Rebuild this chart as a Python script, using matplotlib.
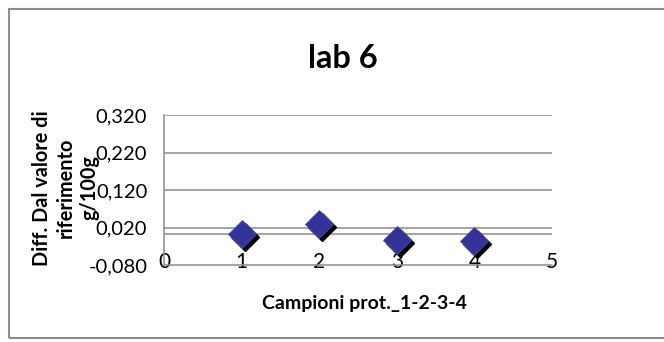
import matplotlib.pyplot as plt
from matplotlib.patches import Rectangle
from matplotlib.transforms import offset_copy

# Scostamenti dei campioni dal valore di riferimento (g/100g)
campioni = [1, 2, 3, 4]
diff = [0.002, 0.029, -0.013, -0.015]
linea_rif = 0.004
y_ticks = [-0.080, 0.020, 0.120, 0.220, 0.320]
x_ticks = [0, 1, 2, 3, 4, 5]

plt.rcParams['font.family'] = ['Lato', 'DejaVu Sans']

fig = plt.figure(figsize=(6.64, 3.42), dpi=100)
ax = fig.add_axes([164 / 664, 1 - 265 / 342, 388 / 664, 150 / 342])

# cornice del grafico
fig.patches.append(Rectangle((9 / 664, 1 - 338 / 342), 1.0, 329 / 342,
                             transform=fig.transFigure, fill=False,
                             edgecolor='#8c8c8c', linewidth=1.5))

ax.set_xlim(0, 5)
ax.set_ylim(-0.080, 0.320)

grigio = '#8c8c8c'
for v in y_ticks[1:]:
    ax.axhline(v, color=grigio, linewidth=1.1, zorder=1)
ax.axhline(linea_rif, color=grigio, linewidth=1.1, zorder=1)

# ombra dei marker
ombra = offset_copy(ax.transData, fig=fig, x=3, y=-3, units='dots')
ax.plot(campioni, diff, 'D', markersize=14, color='black', linestyle='none',
        transform=ombra, zorder=3)
ax.plot(campioni, diff, 'D', markersize=14, markerfacecolor='#333399',
        markeredgecolor='#4a4aa8', markeredgewidth=0.6, linestyle='none', zorder=4)

for s in ['top', 'right']:
    ax.spines[s].set_visible(False)
for s in ['left', 'bottom']:
    ax.spines[s].set_color(grigio)
    ax.spines[s].set_linewidth(1.1)

ax.set_xticks(x_ticks)
ax.set_xticklabels([str(x) for x in x_ticks], fontsize=15)
ax.set_yticks(y_ticks)
ax.set_yticklabels([f'{v:.3f}'.replace('.', ',') for v in y_ticks], fontsize=14.5)
ax.tick_params(axis='x', length=0, pad=-9)
ax.tick_params(axis='y', length=0, pad=12)

fig.text(343 / 664, 1 - 58 / 342, 'lab 6', fontsize=23.5, fontweight='bold',
         ha='center', va='center')
fig.text(364 / 664, 1 - 303 / 342, 'Campioni prot._1-2-3-4', fontsize=14,
         fontweight='bold', ha='center', va='center')
fig.text(66 / 664, 1 - 188 / 342, 'Diff. Dal valore di\nriferimento\ng/100g',
         fontsize=14.3, fontweight='bold', ha='center', va='center',
         rotation=90, multialignment='center', linespacing=1.25)

fig.savefig('out.png', dpi=100)
